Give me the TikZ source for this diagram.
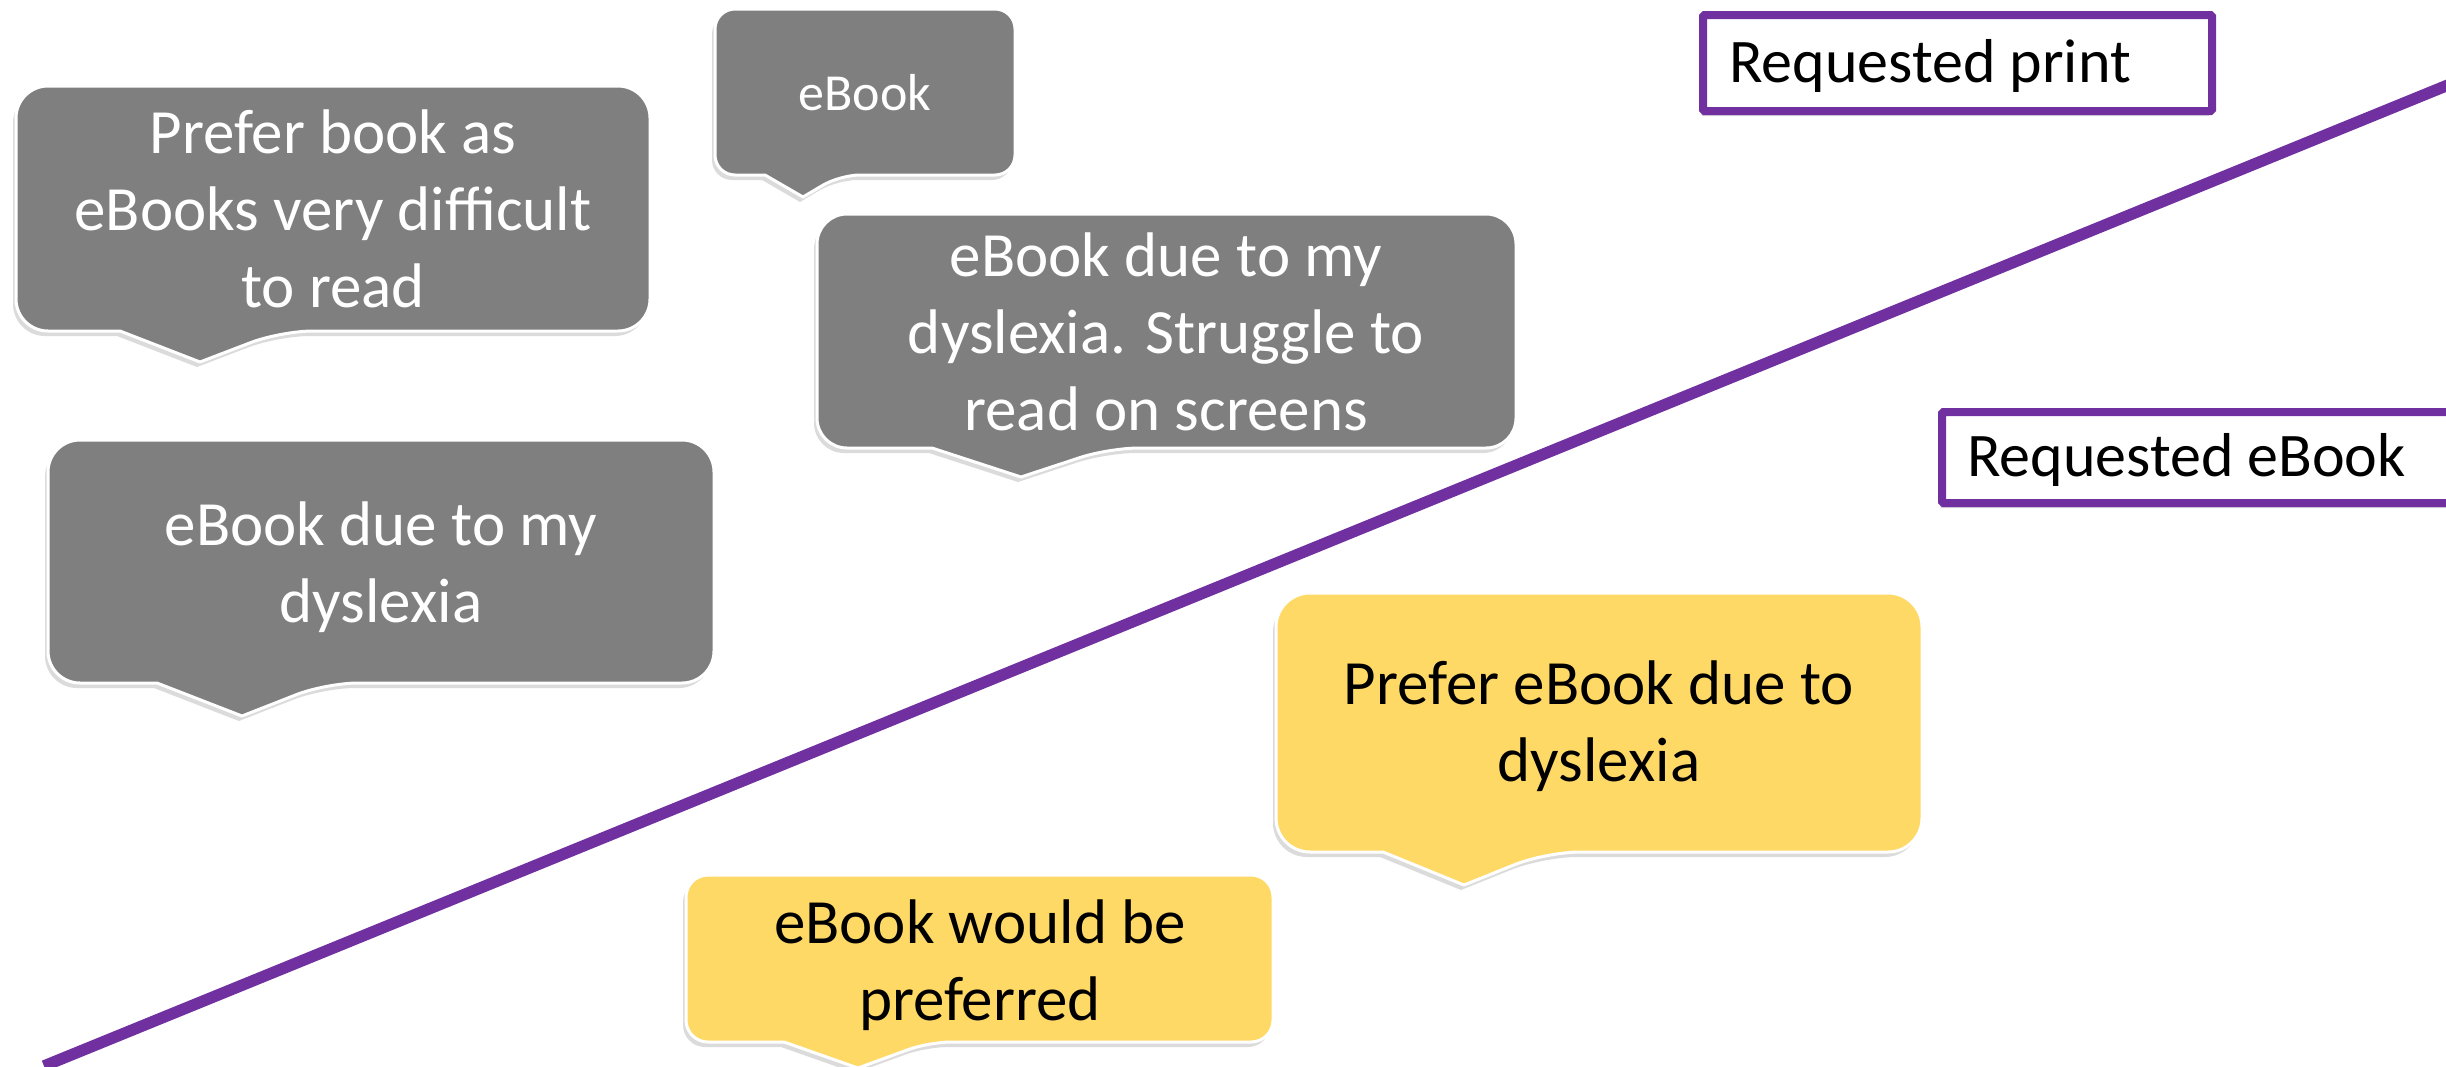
\documentclass[tikz,border=0pt]{standalone}
\usepackage{fontspec}
\setmainfont{Carlito}
\usetikzlibrary{shadows}
\definecolor{ppl}{HTML}{7030A0}
\definecolor{gfill}{HTML}{7F7F7F}
\definecolor{yfill}{HTML}{FFD966}
\tikzset{
  callshape/.style={draw=white, line width=3pt, line join=round,
    drop shadow={shadow xshift=-3pt, shadow yshift=-5pt, opacity=0.28}},
  graycall/.style={callshape, fill=gfill},
  yellowcall/.style={callshape, fill=yfill},
  bigtext/.style={align=center, inner sep=0pt, font=\fontsize{63}{77}\selectfont},
  smalltext/.style={align=center, inner sep=0pt, font=\fontsize{52}{63}\selectfont},
  lbltext/.style={anchor=base west, inner sep=0pt, font=\fontsize{62}{75}\selectfont},
  lblbox/.style={draw=ppl, line width=8pt, fill=white, rounded corners=1.5pt,
    drop shadow={shadow xshift=-2pt, shadow yshift=-5pt, opacity=0.28}},
  divider/.style={draw=ppl, line width=11.5pt}
}
\begin{document}
\begin{tikzpicture}[x=1pt,y=-1pt]
\useasboundingbox (0,0) rectangle (2446,1066);
\clip (0,0) rectangle (2446,1066);
\fill[white] (0,0) rectangle (2446,1066);

% dividing line
\coordinate (l1) at (44,1066);
\coordinate (l2) at (2480,72);
\draw[divider] (l1) -- (l2);

% labels
\path[lblbox] (1703,15) rectangle (2212,111);
\node[lbltext] (rp) at (1729,82) {Requested print};
\path[lblbox] (1942,412) rectangle (2480,503);
\node[lbltext] (re) at (1967,476) {Requested eBook};

% callout A
\path[graycall] (120,331) [rounded corners=32pt] -- (16,331) -- (16,86) -- (650,86) -- (650,331) -- (281,331) [sharp corners] -- (200,362) -- cycle;
\node[bigtext, text=white] (a) at (333,209) {Prefer book as\\eBooks very difficult\\to read};

% callout B
\path[graycall] (765,175) [rounded corners=20pt] -- (715,175) -- (715,9) -- (1015,9) -- (1015,175) -- (840,175) [sharp corners] -- (803,197) -- cycle;
\node[smalltext, text=white] (b) at (865,93) {eBook};

% callout C
\path[graycall] (932,448) [rounded corners=30pt] -- (817,448) -- (817,214) -- (1516,214) -- (1516,448) -- (1109,448) [sharp corners] -- (1021,477) -- cycle;
\node[bigtext, text=white] (c) at (1166,332) {eBook due to my\\dyslexia. Struggle to\\read on screens};

% callout D
\path[graycall] (157,683) [rounded corners=32pt] -- (48,683) -- (48,440) -- (714,440) -- (714,683) -- (326,683) [sharp corners] -- (242,716) -- cycle;
\node[bigtext, text=white] (d) at (381,567) {eBook due to my\\dyslexia};

% callout E
\path[yellowcall] (1383,852) [rounded corners=34pt] -- (1276,852) -- (1276,593) -- (1922,593) -- (1922,852) -- (1546,852) [sharp corners] -- (1464,885) -- cycle;
\node[bigtext, text=black] (e) at (1599,726) {Prefer eBook due to\\dyslexia};

% callout F
\path[yellowcall] (784,1042) [rounded corners=22pt] -- (686,1042) -- (686,875) -- (1273,875) -- (1273,1042) -- (929,1042) [sharp corners] -- (858,1068) -- cycle;
\node[bigtext, text=black] (f) at (980,965) {eBook would be\\preferred};
\end{tikzpicture}
\end{document}
